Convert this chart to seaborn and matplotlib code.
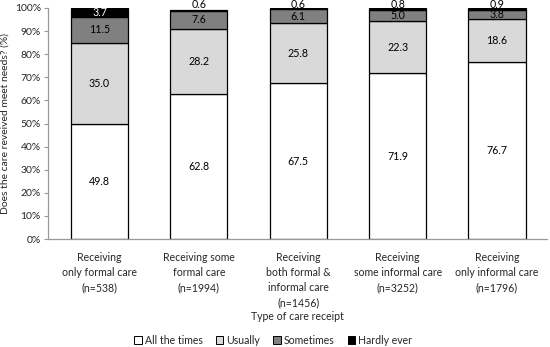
import matplotlib
matplotlib.use("Agg")
import matplotlib.pyplot as plt
import pandas as pd
import seaborn as sns
from matplotlib.patches import Patch
from matplotlib.ticker import PercentFormatter

sns.set_style("white")
plt.rcParams["font.family"] = ["Lato", "DejaVu Sans"]

categories = [
    "Receiving\nonly formal care\n(n=538)",
    "Receiving some\nformal care\n(n=1994)",
    "Receiving\nboth formal &\ninformal care\n(n=1456)",
    "Receiving\nsome informal care\n(n=3252)",
    "Receiving\nonly informal care\n(n=1796)",
]
all_the_times = [49.8, 62.8, 67.5, 71.9, 76.7]
usually = [35.0, 28.2, 25.8, 22.3, 18.6]
sometimes = [11.5, 7.6, 6.1, 5.0, 3.8]
hardly_ever = [3.7, 0.6, 0.6, 0.8, 0.9]

series = {
    "All the times": all_the_times,
    "Usually": usually,
    "Sometimes": sometimes,
    "Hardly ever": hardly_ever,
}
colors = ["#ffffff", "#d9d9d9", "#808080", "#000000"]
text_colors = ["black", "black", "black", "white"]

fig = plt.figure(figsize=(5.5, 3.47), dpi=100)
ax = fig.add_axes([0.087, 0.311, 0.907, 0.666])

bottom = [0.0] * len(categories)
for (name, vals), col, tcol in zip(series.items(), colors, text_colors):
    df = pd.DataFrame({"cat": categories, "val": vals})
    sns.barplot(data=df, x="cat", y="val", bottom=bottom, color=col,
                edgecolor="black", linewidth=0.9, width=0.575,
                saturation=1, ax=ax)
    for i, v in enumerate(vals):
        mid = bottom[i] + v / 2
        c = tcol
        if v < 2:
            # tiny segments: label sits on top of the bar
            mid = 101.4
            c = "black"
        ax.text(i, mid, f"{v:.1f}", ha="center", va="center",
                fontsize=7.7, color=c)
    bottom = [b + v for b, v in zip(bottom, vals)]

ax.set_ylim(0, 100)
ax.set_xlim(-0.52, 4.5)
ax.set_yticks(range(0, 101, 10))
ax.yaxis.set_major_formatter(PercentFormatter(decimals=0))
ax.tick_params(axis="y", left=True, length=3, color="#999999",
               labelsize=7.5, pad=2)
ax.tick_params(axis="x", bottom=False, labelsize=7.6, pad=6)
for lab in ax.get_xticklabels():
    lab.set_linespacing(1.45)
for s in ["top", "right"]:
    ax.spines[s].set_visible(False)
for s in ["left", "bottom"]:
    ax.spines[s].set_color("#999999")
    ax.spines[s].set_linewidth(0.9)

ax.set_xlabel("Type of care receipt", fontsize=7.6, labelpad=2)
ax.set_ylabel("Does the care reveived meet needs? (%)", fontsize=7.5,
              labelpad=4)

handles = [Patch(facecolor=c, edgecolor="black", linewidth=0.7)
           for c in colors]
fig.legend(handles, list(series.keys()), loc="center",
           bbox_to_anchor=(0.497, 0.02), ncol=4, frameon=False,
           fontsize=7.6, handlelength=0.7, handleheight=0.7,
           handletextpad=0.3, columnspacing=1.25, borderpad=0)

plt.savefig("out.png", dpi=100)
plt.close()
